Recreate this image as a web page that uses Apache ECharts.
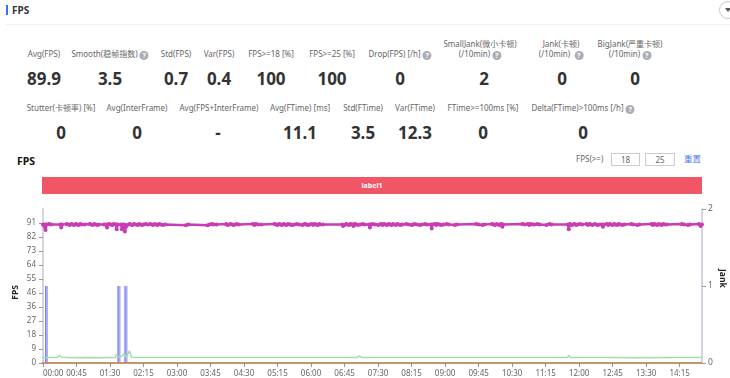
<!DOCTYPE html>
<html>
<head>
<meta charset="utf-8">
<title>FPS</title>
<script src="https://cdn.jsdelivr.net/npm/echarts@6/dist/echarts.min.js"></script>
<style>
    html, body { margin: 0; padding: 0; background: #fff; overflow: hidden; }
    body { width: 730px; height: 378px; position: relative; font-family: "Noto Sans", "Noto Sans CJK SC", sans-serif; color: #666; }
    .abs { position: absolute; white-space: nowrap; }
    .lbl { font-size: 8px; line-height: 10px; text-align: center; transform: translateX(-50%); }
    .val { font-size: 17px; line-height: 20px; font-weight: 700; color: #333; transform: translateX(-50%); }
    .help { display: inline-block; width: 9px; height: 9px; line-height: 9px; border-radius: 50%; background: #a9adb5; color: #fff; font-size: 7px; font-weight: 700; text-align: center; margin-left: 2px; vertical-align: -1px; }
    .box { border: 1px solid #c9ccd2; font-size: 8px; line-height: 11px; text-align: center; color: #666; box-sizing: content-box; }
    #chart { position: absolute; left: 0; top: 200px; width: 730px; height: 178px; }
</style>
</head>
<body>
<div class="abs" style="left:6px;top:5px;width:2px;height:10px;background:#3f6ff0"></div>
<div class="abs" style="left:12px;top:3px;font-size:10px;line-height:14px;font-weight:700;color:#333">FPS</div>
<div class="abs" style="left:6px;top:24px;width:724px;height:1px;background:#eef0f4"></div>
<div class="abs" style="left:719px;top:1px;width:18px;height:18px;border:1px solid #c4c7cc;border-radius:50%;box-sizing:border-box"></div>
<div class="abs" style="left:725px;top:8px;width:0;height:0;border-left:3px solid transparent;border-right:3px solid transparent;border-top:4px solid #555"></div>

<div id="stats"></div>

<div class="abs" style="left:17px;top:154px;font-size:10.5px;line-height:15px;font-weight:700;color:#111">FPS</div>
<div class="abs" style="left:576px;top:153px;font-size:8px;line-height:12px">FPS(&gt;=)</div>
<div class="abs box" style="left:611px;top:153px;width:27px;height:11px">18</div>
<div class="abs box" style="left:645px;top:153px;width:28px;height:11px">25</div>
<div class="abs" style="left:684px;top:153px;font-size:8.5px;line-height:12px;color:#4d7cf5">重置</div>

<div class="abs" style="left:42px;top:177px;width:660px;height:17px;background:#f05665;color:#fff;font-size:7px;line-height:18px;font-weight:700;text-align:center">label1</div>

<div id="chart"></div>

<script>
// --- Stat cells: [label lines, center x, label top] ---
const statLabels = [
    ['Avg(FPS)', 44, 49], ['Smooth(稳帧指数)?', 110, 49], ['Std(FPS)', 176, 49], ['Var(FPS)', 219, 49],
    ['FPS>=18 [%]', 271, 49], ['FPS>=25 [%]', 332, 49], ['Drop(FPS) [/h]?', 400, 49],
    ['SmallJank(微小卡顿)|(/10min)?', 480, 39], ['Jank(卡顿)|(/10min) ?', 561, 39], ['BigJank(严重卡顿)|(/10min)?', 630, 39],
    ['Stutter(卡顿率) [%]', 61, 103], ['Avg(InterFrame)', 137, 103], ['Avg(FPS+InterFrame)', 219, 103],
    ['Avg(FTime) [ms]', 300, 103], ['Std(FTime)', 363, 103], ['Var(FTime)', 415, 103],
    ['FTime>=100ms [%]', 483, 103], ['Delta(FTime)>100ms [/h]?', 583, 103]
];
const statValues = [
    ['89.9', 44, 69], ['3.5', 110, 69], ['0.7', 176, 69], ['0.4', 219, 69], ['100', 271, 69], ['100', 332, 69],
    ['0', 400, 69], ['2', 484, 69], ['0', 562, 69], ['0', 635, 69],
    ['0', 61, 123], ['0', 137, 123], ['-', 218, 123], ['11.1', 300, 123], ['3.5', 363, 123], ['12.3', 415, 123],
    ['0', 483, 123], ['0', 583, 123]
];

document.getElementById('stats').innerHTML =
    statLabels.map(s => {
        const text = s[0].replace(/&/g, '&amp;').replace(/>/g, '&gt;').replace(/\?/g, '<span class="help">?</span>').replace('|', '<br>');
        return `<div class="abs lbl" style="left:${s[1]}px;top:${s[2]}px">${text}</div>`;
    }).join('') +
    statValues.map(s => `<div class="abs val" style="left:${s[1]}px;top:${s[2]}px">${s[0]}</div>`).join('');

// --- Chart data (x is minutes since 00:00) ---
const xTicks = [0, 45, 90, 135, 180, 225, 270, 315, 360, 405, 450, 495, 540, 585, 630, 675, 720, 765, 810, 855];
const fpsTicks = [0, 9.1, 18.2, 27.3, 36.4, 45.5, 54.6, 63.7, 72.8, 81.9, 91];
const jankTicks = [0, 1, 2];

const fpsPoints = [
    [0,90],[2.5,90],[3.5,86.5],[4.5,90],[8,90.4],[11,90],[23.5,90],[24.5,88],[25.5,90],
    [32,90.4],[34,90],[36,89.7],[38,90.4],[40,90],[42,89.7],[44,90.4],[46,90],[48,89.7],[50,90.4],[52,90],[56,90],
    [63,90.4],[65,90],[67,89.7],[69,90.4],[71,90],[73,89.7],[75,90],[82,90],[85,90],[86,88],[87,90],
    [89,90.4],[91,90],[93,89.7],[95,90.4],[97,90],[98,90],[99,87],[100,90],[105,90],[106,87],[107,90],[109,90],[110,85.5],[111.5,88.5],
    [113,89.7],[116,90.4],[118,90],[120,89.7],[122,90.4],[124,90],[127,89.7],[129,90.4],[131,90],[133,89.7],[135,90],
    [138,90.4],[141,90],[144,90.4],[146,90],[148,89.7],[150,90.4],[152,90],[154,89.7],[156,90.4],[158,90],[161,89.7],[164,90],
    [192,89.5],[195,90],[221,89.5],[224,90],[227,90.4],[229,90],[233,90],[246,90.4],[248,89.7],[250,90],
    [252,90.4],[254,90],[256,89.7],[258,90],[260,90.4],[263,90],[282,90.4],[284,89.7],[286,90.4],[289,90],[293,90],
    [311,90.4],[313,90],[315,89.7],[317,90.4],[319,90],[321,89.7],[323,90.4],[325,90],[327,89.7],[329,90.4],[331,90],[333,90],
    [335,89.7],[338,90],[341,90.4],[344,90],[348,89.7],[350,90],[352,90.4],[354,90],[356,89.7],[358,90],
    [361,90.4],[363,89.7],[365,90.4],[367,90],[369,89.7],[371,90.4],[372,90],[376,90],
    [402,90],[403,89],[405,89.7],[407,90.4],[409,90],[411,89.7],[413,90.4],[415,90],[416,90],[417,89],[418,90],[419,90.4],[421,90],[423,89.7],
    [426,90],[429,90.4],[432,90],[438,90],[439,88],[440,90],[443,90.4],[446,90],[450,89.7],
    [452,90],[454,90.4],[456,89.7],[458,90.4],[460,90],[462,89.7],[464,90.4],[466,90],[468,89.7],[470,90.4],[472,90],[474,89.7],[476,90.4],[478,90],[480,89.7],[483,90],
    [488,90.4],[491,90],[495,89.7],[497,90],[499,90.4],[502,90],[506,89.7],[509,90],[513,90.4],[516,90],
    [521,90],[522,87.5],[523,90],[526,90.4],[528,89.7],[530,90.4],[532,90],[535,89.7],[538,90],[542,90.4],[545,90],[553,89.7],[556,90],
    [582,90.4],[585,90],[590,89.7],[593,90],[603,90.4],[605,90],[607,89.7],[609,90.4],[611,90],[613,89.7],[615,90.4],[616,90],[617,88.5],[618,90],
    [644,90.4],[647,90],[651,90.4],[653,89.7],[655,90.4],[658,90],[660,90],[664,90.4],[667,90],[676,89.7],[680,90.4],[683,90],
    [705,90],[706,87],[707,90],[708,90.4],[710,89.7],[712,90],[714,90.4],[716,89.7],[718,90],[721,90.4],[724,90],
    [730,90.4],[732,89.7],[734,90.4],[736,90],[738,89.7],[741,90.4],[743,90],[745,89.7],[748,90],[751,90],[752,88.5],[753,90],
    [757,90.4],[759,89.7],[761,90.4],[763,90],[765,89.7],[767,90.4],[769,90],[771,89.7],[773,90.4],[775,90],[778,89.7],[781,90],
    [790,90.4],[793,90],[798,89.7],[801,90],[817,90.4],[819,89.7],[821,90.4],[823,90],[825,89.7],[827,90.4],[829,90],[831,89.7],[833,90.4],[835,90],[838,90],
    [858,90.4],[861,90],[866,89.7],[869,90],[881,90.4],[883,89],[885,90]
];
const smoothPoints = [
    [0,3.5],[19,3.5],[22,5],[25,3.7],[34,3.5],[48,3.4],[62,3.6],[80,3.4],[97,3.5],[99,5.6],[102,3.8],[106,4.4],[109,6],[112,3.5],
    [114,4.2],[116,8],[119,3.7],[130,3.5],[147,3.6],[149,4.4],[151,3.6],[190,3.5],[250,3.5],[320,3.5],[422,3.5],[425,4.6],[428,3.5],
    [520,3.5],[573,3.5],[575,4.2],[577,3.5],[670,3.5],[704,3.5],[706,5],[708,3.6],
    [722,3.5],[724,4.6],[726,3.5],[750,3.5],[752,4.6],[754,3.5],[800,3.4],[850,3.5],[885,3.5]
];
const jankPoints = [[3.4,1],[100.8,1],[110.2,1]];
const dropPoints = [[-1.3,0],[885,0]];

function minuteLabel(m) {
    const h = String(Math.floor(m / 60)).padStart(2, '0');
    return h + ':' + String(m % 60).padStart(2, '0');
}

const axisLine = { show: true, lineStyle: { color: '#d3d6de', width: 2 } };
const axisTick = { show: true, length: 4, lineStyle: { color: '#999' } };
const labelFont = '"Noto Sans", sans-serif';

const chart = echarts.init(document.getElementById('chart'));
chart.setOption({
    animation: false,
    grid: { left: 42, right: 28, top: 9, height: 154, outerBoundsMode: 'none' },
    xAxis: {
        type: 'value', min: -1.3, max: 885, offset: 1,
        splitLine: { show: false },
        axisLine,
        axisTick: { ...axisTick, customValues: xTicks },
        axisLabel: {
            customValues: xTicks, formatter: minuteLabel, fontSize: 8, color: '#666', margin: 6,
            showMinLabel: true, alignMinLabel: 'left', hideOverlap: false, fontFamily: labelFont
        }
    },
    yAxis: [
        {
            type: 'value', min: 0, max: 100.1,
            splitLine: { show: false },
            axisLine,
            axisTick: { ...axisTick, customValues: fpsTicks },
            axisLabel: {
                customValues: fpsTicks, formatter: v => String(Math.round(v)), fontSize: 8, color: '#666', margin: 6,
                verticalAlignMinLabel: 'middle', fontFamily: labelFont
            }
        },
        {
            type: 'value', min: 0, max: 2,
            splitLine: { show: false },
            axisLine,
            axisTick: { ...axisTick, customValues: jankTicks },
            axisLabel: {
                customValues: jankTicks, fontSize: 8.5, color: '#666', margin: 6,
                verticalAlignMinLabel: 'middle', verticalAlignMaxLabel: 'middle', fontFamily: labelFont
            }
        }
    ],
    graphic: [
        { type: 'text', left: 11, top: 85, rotation: Math.PI / 2, style: { text: 'FPS', font: 'bold 8.5px "Noto Sans", sans-serif', fill: '#222' } },
        { type: 'text', left: 718, top: 69, rotation: -Math.PI / 2, style: { text: 'Jank', font: 'bold 8.5px "Noto Sans", sans-serif', fill: '#222' } }
    ],
    series: [
        {
            type: 'bar', yAxisIndex: 1, data: jankPoints, barWidth: 3, barGap: '-100%',
            itemStyle: { color: '#abadf6' }
        },
        {
            type: 'bar', yAxisIndex: 1, data: jankPoints, barWidth: 1,
            itemStyle: { color: '#7d80ee' }
        },
        {
            type: 'line', data: smoothPoints, symbol: 'none',
            lineStyle: { color: '#a5dcae', width: 1.5 }
        },
        {
            type: 'line', data: fpsPoints, symbol: 'circle', symbolSize: 4, showAllSymbol: true,
            itemStyle: { color: '#c83db5' },
            lineStyle: { color: '#c83db5', width: 2.5 }
        },
        {
            type: 'line', yAxisIndex: 1, data: dropPoints, symbol: 'none', clip: false,
            lineStyle: { color: '#c97b4b', width: 1.5 }
        }
    ]
});
</script>
</body>
</html>
